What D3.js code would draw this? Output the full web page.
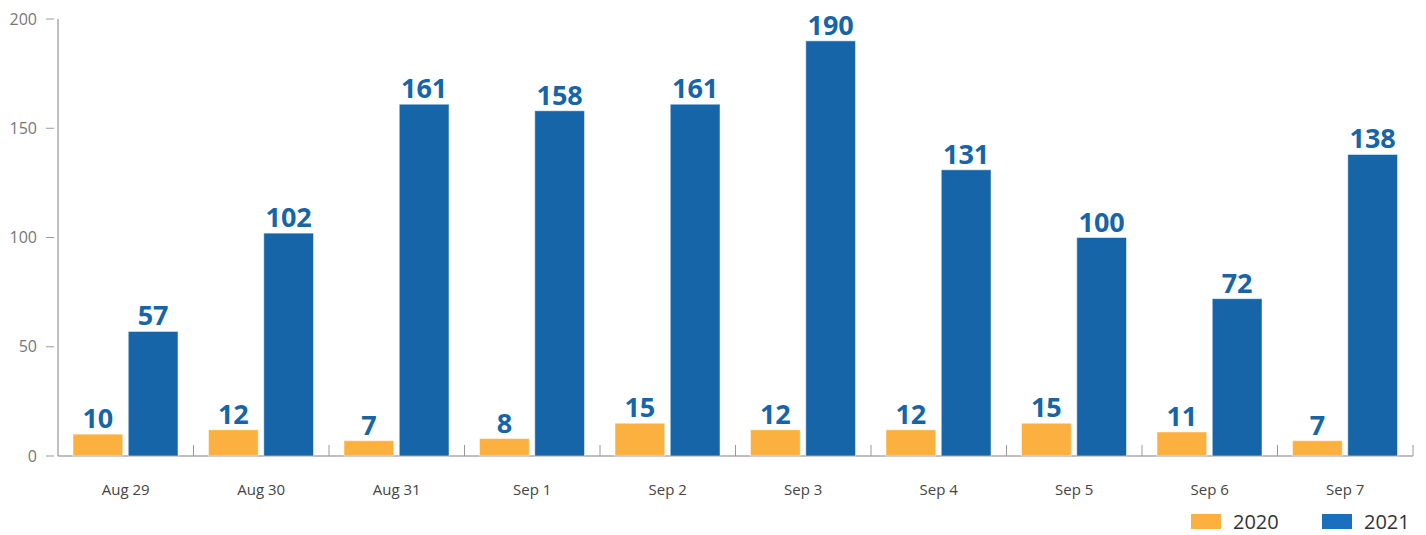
<!DOCTYPE html>
<html>
<head>
<meta charset="utf-8">
<script src="https://cdn.jsdelivr.net/npm/d3@7"></script>
<style>
  body { margin: 0; background: #fff; }
  svg { display: block; font-family: "Open Sans", "DejaVu Sans", sans-serif; }
</style>
</head>
<body>
<div id="chart"></div>
<script>
const days = ["Aug 29", "Aug 30", "Aug 31", "Sep 1", "Sep 2", "Sep 3", "Sep 4", "Sep 5", "Sep 6", "Sep 7"];
const values2020 = [10, 12, 7, 8, 15, 12, 12, 15, 11, 7];
const values2021 = [57, 102, 161, 158, 161, 190, 131, 100, 72, 138];
const yTicks = [0, 50, 100, 150, 200];
const seriesNames = ["2020", "2021"];
const colors = { "2020": "#FBB040", "2021": "#1565A8" };

const width = 1426, height = 535;
const plotLeft = 58, plotRight = 1413, plotTop = 19, plotBottom = 456;

const svg = d3.select("#chart").append("svg")
    .attr("width", width)
    .attr("height", height);

const x = d3.scaleBand().domain(days).range([plotLeft, plotRight]).paddingInner(0).paddingOuter(0);
const xs = d3.scaleBand().domain(seriesNames).range([15, x.bandwidth() - 15.5]).paddingInner(0.1);
const y = d3.scaleLinear().domain([0, 200]).range([plotBottom, plotTop]);

// y axis
svg.append("line")
    .attr("x1", plotLeft).attr("x2", plotLeft)
    .attr("y1", plotTop).attr("y2", plotBottom)
    .attr("stroke", "#aaa").attr("stroke-width", 1.5);

const yt = svg.append("g").selectAll("g").data(yTicks).join("g")
    .attr("transform", d => `translate(0,${y(d)})`);
yt.append("line").attr("x1", 46).attr("x2", 54).attr("stroke", "#999").attr("stroke-width", 1);
yt.append("text")
    .attr("x", 37).attr("dy", "0.35em")
    .attr("text-anchor", "end")
    .attr("font-size", 16)
    .attr("fill", "#777")
    .text(d => d);

// x axis
svg.append("line")
    .attr("x1", plotLeft).attr("x2", plotRight)
    .attr("y1", plotBottom).attr("y2", plotBottom)
    .attr("stroke", "#aaa").attr("stroke-width", 1.5);

svg.append("g").selectAll("line").data(days).join("line")
    .attr("x1", d => x(d) + x.bandwidth())
    .attr("x2", d => x(d) + x.bandwidth())
    .attr("y1", plotBottom).attr("y2", plotBottom - 11)
    .attr("stroke", "#999").attr("stroke-width", 1);

svg.append("g").selectAll("text").data(days).join("text")
    .attr("x", d => x(d) + x.bandwidth() / 2)
    .attr("y", 495)
    .attr("text-anchor", "middle")
    .attr("font-size", 15)
    .attr("fill", "#444")
    .text(d => d);

// bars
const rows = days.map((d, i) => ({ day: d, vals: [
    { key: "2020", v: values2020[i] },
    { key: "2021", v: values2021[i] }
] }));

const group = svg.append("g").selectAll("g").data(rows).join("g")
    .attr("transform", d => `translate(${x(d.day)},0)`);

group.selectAll("rect").data(d => d.vals).join("rect")
    .attr("x", d => xs(d.key))
    .attr("width", xs.bandwidth())
    .attr("y", d => y(d.v))
    .attr("height", d => plotBottom - y(d.v))
    .attr("fill", d => colors[d.key])
    .attr("stroke", "#fff")
    .attr("stroke-opacity", 0.5)
    .attr("stroke-width", 1);

group.selectAll("text").data(d => d.vals).join("text")
    .attr("x", d => xs(d.key) + xs.bandwidth() / 2)
    .attr("y", d => y(d.v) - 6)
    .attr("text-anchor", "middle")
    .attr("font-size", 27)
    .attr("font-weight", "bold")
    .attr("fill", "#1565A8")
    .text(d => d.v);

// legend
const legend = svg.append("g").selectAll("g").data(seriesNames).join("g")
    .attr("transform", (d, i) => `translate(${1191 + i * 131},0)`);
legend.append("rect")
    .attr("x", 0).attr("y", 514)
    .attr("width", 30).attr("height", 15)
    .attr("fill", d => d === "2021" ? "#1A70BF" : colors[d]);
legend.append("text")
    .attr("x", 42).attr("y", 522)
    .attr("dy", "0.35em")
    .attr("font-size", 20)
    .attr("fill", "#333")
    .text(d => d);
</script>
</body>
</html>
